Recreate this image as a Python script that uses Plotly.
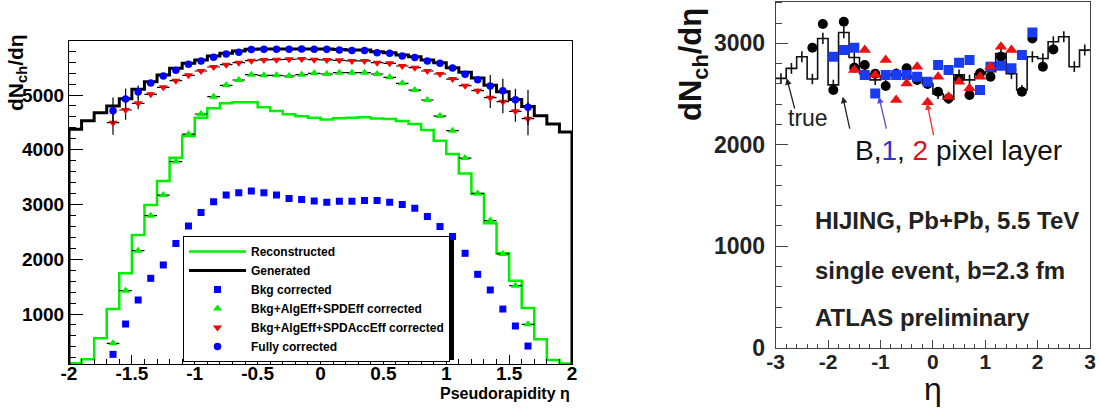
import numpy as np
import plotly.graph_objects as go

# ---------------- left panel: dN/deta corrections (ROOT style) ----------------
edges_l = [round(v, 2) for v in np.arange(-2.0, 2.001, 0.1)]
eta_pts = [round(v, 2) for v in np.arange(-1.65, 1.651, 0.1)]

generated = [4373, 4530, 4677, 4800, 4932, 5104, 5243, 5366, 5488, 5579,
             5640, 5713, 5762, 5805, 5835, 5841, 5841, 5841, 5841, 5841,
             5841, 5830, 5820, 5820, 5790, 5770, 5730, 5700, 5640, 5590,
             5500, 5415, 5312, 5180, 5060, 4920, 4790, 4622, 4470, 4324]
reconstructed = [100, 172, 556, 1091, 1744, 2444, 2993, 3431, 3852, 4250,
                 4585, 4757, 4848, 4870, 4870, 4775, 4707, 4647, 4610, 4585,
                 4555, 4574, 4585, 4592, 4570, 4562, 4525, 4470, 4360, 4165,
                 3921, 3568, 3190, 2658, 2109, 1609, 1110, 537, 159, 98]
fully_corr = [4713, 4927, 5055, 5219, 5347, 5451, 5561, 5622, 5689, 5750,
              5780, 5829, 5835, 5835, 5835, 5841, 5835, 5835, 5823, 5811,
              5811, 5774, 5762, 5713, 5683, 5622, 5579, 5494, 5378, 5280,
              5165, 5079, 4914, 4775]
fully_err = [240, 190, 120, 40, 30, 30, 30, 30, 30, 30, 30, 30, 30, 30, 30, 30, 30,
             30, 30, 30, 30, 30, 30, 30, 30, 30, 30, 30, 30, 40, 200, 220, 200, 320]
accEff_corr = [4494, 4726, 4848, 5012, 5140, 5262, 5360, 5439, 5512, 5554,
               5591, 5627, 5640, 5646, 5652, 5658, 5646, 5640, 5634, 5622,
               5622, 5591, 5579, 5530, 5500, 5439, 5384, 5292, 5171, 5079,
               4951, 4878, 4702, 4567]
accEff_err = [220, 180, 110, 40, 30, 30, 30, 30, 30, 30, 30, 30, 30, 30, 30, 30, 30,
              30, 30, 30, 30, 30, 30, 30, 30, 30, 30, 30, 30, 40, 190, 210, 190, 300]
spdEff_corr = [464, 1426, 2157, 2797, 3172, 3784, 4284, 4653, 4969, 5177,
               5274, 5371, 5360, 5360, 5347, 5371, 5396, 5384, 5408, 5408,
               5408, 5384, 5323, 5214, 5091, 4909, 4616, 4348, 3848, 3203,
               2706, 2097, 1517, 812]
bkg_corr = [263, 817, 1256, 1652, 1896, 2286, 2609, 2852, 3050, 3172,
            3215, 3245, 3215, 3172, 3111, 3093, 3066, 3042, 3060, 3060,
            3072, 3072, 3042, 3000, 2932, 2779, 2597, 2414, 2109, 1725,
            1439, 1091, 781, 415]
half_bin = [0.05] * len(eta_pts)

# ---------------- right panel: ATLAS single event ----------------
true_eta = [round(v, 2) for v in np.arange(-2.9, 2.901, 0.2)]
true_edges = [round(v, 2) for v in np.arange(-3.0, 3.001, 0.2)]
true_vals = [2654, 2753, 2868, 2648, 3048, 2590, 3107, 2860, 2700, 2640,
             2680, 2700, 2680, 2660, 2600, 2500, 2450, 2690, 2640, 2700,
             2720, 2900, 2700, 2540, 2868, 2850, 3015, 3065, 2769, 2933]
true_err = [51, 52, 54, 51, 55, 51, 56, 53, 52, 51, 52, 52, 52, 52, 51,
            50, 49, 52, 51, 52, 52, 54, 52, 50, 54, 53, 55, 55, 53, 54]

b_eta = [-2.3, -2.1, -1.9, -1.7, -1.5, -1.3, -1.1, -0.9, -0.7, -0.5, -0.3, -0.1,
         0.1, 0.3, 0.5, 0.7, 0.9, 1.1, 1.3, 1.5, 1.7, 1.9, 2.1, 2.3]
b_vals = [2956, 3190, 2539, 3213, 2760, 2786, 2700, 2579, 2700, 2753, 2638, 2600,
          2523, 2457, 2650, 2490, 2704, 2671, 2868, 2740, 2523, 3048, 2769, 2940]
l1_eta = [-1.9, -1.7, -1.5, -1.3, -1.1, -0.9, -0.7, -0.5, -0.3, -0.1,
          0.1, 0.3, 0.5, 0.7, 0.9, 1.1, 1.3, 1.5, 1.7, 1.9]
l1_vals = [2868, 2933, 2956, 2687, 2506, 2687, 2687, 2687, 2671, 2622,
           2786, 2737, 2809, 2835, 2539, 2769, 2779, 2753, 2884, 3107]
l2_eta = [-1.5, -1.3, -1.1, -0.9, -0.7, -0.5, -0.3, -0.1,
          0.1, 0.3, 0.5, 0.7, 0.9, 1.1, 1.3, 1.5]
l2_vals = [2736, 2933, 2687, 2835, 2441, 2605, 2769, 2420,
           2671, 2474, 2622, 2556, 2671, 2769, 2966, 2933]

left_xticks = [-2, -1.5, -1, -0.5, 0, 0.5, 1, 1.5, 2]
left_yticks = [1000, 2000, 3000, 4000, 5000]
right_xticks = [-3, -2, -1, 0, 1, 2, 3]
right_yticks = [0, 1000, 2000, 3000]


def hist_outline(edges, vals):
    xs = [edges[0]] + edges[:-1] + [edges[-1], edges[-1]]
    ys = [0] + vals + [vals[-1], 0]
    return xs, ys


W, H = 1100, 409
FONT = "Liberation Sans"

fig = go.Figure()

gx, gy = hist_outline(edges_l, reconstructed)
fig.add_trace(go.Scatter(x=gx, y=gy, mode="lines", line=dict(color="#00ee00", width=2.5, shape="hv"),
                         name="Reconstructed", xaxis="x", yaxis="y"))
bx, by = hist_outline(edges_l, generated)
fig.add_trace(go.Scatter(x=bx, y=by, mode="lines", line=dict(color="black", width=3, shape="hv"),
                         name="Generated", xaxis="x", yaxis="y"))
fig.add_trace(go.Scatter(x=eta_pts, y=bkg_corr, mode="markers",
                         marker=dict(symbol="square", size=7, color="#0000ff"),
                         name="Bkg corrected", xaxis="x", yaxis="y"))
fig.add_trace(go.Scatter(x=eta_pts, y=spdEff_corr, mode="markers",
                         marker=dict(symbol="triangle-up", size=8, color="#00ee00"),
                         error_x=dict(type="data", array=half_bin, color="black", thickness=1.2, width=0),
                         name="Bkg+AlgEff+SPDEff corrected", xaxis="x", yaxis="y"))
fig.add_trace(go.Scatter(x=eta_pts, y=accEff_corr, mode="markers",
                         marker=dict(symbol="triangle-down", size=8, color="#ff0000"),
                         error_x=dict(type="data", array=half_bin, color="black", thickness=1.2, width=0),
                         error_y=dict(type="data", array=accEff_err, color="black", thickness=1.2, width=0),
                         name="Bkg+AlgEff+SPDAccEff corrected", xaxis="x", yaxis="y"))
fig.add_trace(go.Scatter(x=eta_pts, y=fully_corr, mode="markers",
                         marker=dict(symbol="circle", size=7.5, color="#0000ff"),
                         error_y=dict(type="data", array=fully_err, color="black", thickness=1.2, width=0),
                         name="Fully corrected", xaxis="x", yaxis="y"))

# right panel
tx = true_edges[:-1] + [true_edges[-1]]
ty = true_vals + [true_vals[-1]]
fig.add_trace(go.Scatter(x=tx, y=ty, mode="lines", line=dict(color="#111", width=1.6, shape="hv"),
                         showlegend=False, xaxis="x2", yaxis="y2"))
fig.add_trace(go.Scatter(x=true_eta, y=true_vals, mode="markers", marker=dict(size=1, color="#111"),
                         error_y=dict(type="data", array=true_err, color="#111", thickness=1.6, width=0),
                         showlegend=False, xaxis="x2", yaxis="y2"))
fig.add_trace(go.Scatter(x=b_eta, y=b_vals, mode="markers", marker=dict(symbol="circle", size=10, color="black"),
                         showlegend=False, xaxis="x2", yaxis="y2"))
fig.add_trace(go.Scatter(x=l1_eta, y=l1_vals, mode="markers", marker=dict(symbol="square", size=10, color="#1a3cf0"),
                         showlegend=False, xaxis="x2", yaxis="y2"))
fig.add_trace(go.Scatter(x=l2_eta, y=l2_vals, mode="markers", marker=dict(symbol="triangle-up", size=11, color="#ee1111"),
                         showlegend=False, xaxis="x2", yaxis="y2"))


def px2paper(x, y):
    return x / W, (H - y) / H


left_axis_common = dict(showgrid=False, zeroline=False, showline=True, linecolor="black", linewidth=1,
                        mirror=True, ticks="inside", tickcolor="black", automargin=False)
right_axis_common = dict(showgrid=False, zeroline=False, showline=True, linecolor="#444", linewidth=1,
                         mirror=True, ticks="inside", tickcolor="#444", automargin=False)
tick_l = dict(family=FONT, size=19, color="black", weight="bold")
tick_rx = dict(family=FONT, size=21, color="#222", weight="bold")
tick_ry = dict(family=FONT, size=23, color="#222", weight="bold")

LEG_TOP = 236
fig.update_layout(
    width=W, height=H, margin=dict(l=0, r=0, t=0, b=0, autoexpand=False),
    paper_bgcolor="white", plot_bgcolor="white",
    xaxis=dict(domain=[69 / W, 572 / W], range=[-2, 2], anchor="y",
               tickvals=left_xticks, ticktext=[("%g" % v) for v in left_xticks],
               ticklen=9, tickfont=tick_l, ticklabelstandoff=-8,
               minor=dict(ticks="inside", dtick=0.1, tick0=0, ticklen=5, tickcolor="black"),
               **left_axis_common),
    yaxis=dict(domain=[(H - 364) / H, (H - 40.7) / H], range=[87, 5992], anchor="x",
               tickvals=left_yticks, ticktext=[str(v) for v in left_yticks],
               ticklen=14, tickfont=tick_l,
               minor=dict(ticks="inside", dtick=200, tick0=0, ticklen=7, tickcolor="black"),
               **left_axis_common),
    xaxis2=dict(domain=[775.7 / W, 1090 / W], range=[-3, 3], anchor="y2",
                tickvals=right_xticks, ticktext=[str(v) for v in right_xticks],
                ticklen=8, tickfont=tick_rx, ticklabelstandoff=-5,
                minor=dict(ticks="inside", dtick=0.2, tick0=0, ticklen=4, tickcolor="#444"),
                **right_axis_common),
    yaxis2=dict(domain=[(H - 347.7) / H, (H - 1.7) / H], range=[0, 3410], anchor="x2",
                tickvals=right_yticks, ticktext=[str(v) for v in right_yticks],
                ticklen=12, tickfont=tick_ry, ticklabelstandoff=5,
                minor=dict(ticks="inside", dtick=200, tick0=0, ticklen=6, tickcolor="#444"),
                **right_axis_common),
    legend=dict(x=183 / W, y=(H - LEG_TOP) / H, xanchor="left", yanchor="top",
                bgcolor="white", bordercolor="black", borderwidth=1,
                font=dict(family=FONT, size=12, color="black", weight="bold"),
                itemwidth=57, tracegroupgap=0, entrywidth=265, entrywidthmode="pixels"),
    showlegend=True,
)

# legend drop shadow
sx0, sy0 = px2paper(187, LEG_TOP + 4)
sx1, sy1 = px2paper(454, LEG_TOP + 124)
fig.add_shape(type="rect", xref="paper", yref="paper", x0=sx0, x1=sx1, y0=sy1, y1=sy0,
              fillcolor="black", line=dict(width=0), layer="above")

ann = []
# axis titles
for text, (px, py), size, angle, xa, col in [
        ("<b>dN<sub>ch</sub>/dη</b>", (17, 73), 21, -90, "center", "black"),
        ("<b>Pseudorapidity η</b>", (572, 393), 16, 0, "right", "black"),
        ("<b>dN<sub>ch</sub>/dη</b>", (693, 65), 31, -90, "center", "#111"),
        ("η", (933, 389), 32, 0, "center", "#111")]:
    x, y = px2paper(px, py)
    ann.append(dict(x=x, y=y, xref="paper", yref="paper", text=text, textangle=angle,
                    xanchor=xa, yanchor="middle", showarrow=False,
                    font=dict(family=FONT, size=size, color=col)))

# right panel texts
ann.append(dict(x=-2.38, y=2264, xref="x2", yref="y2", text="true", showarrow=False,
                xanchor="center", yanchor="middle", font=dict(family=FONT, size=23, color="#222")))
ann.append(dict(x=-1.525, y=1948, xref="x2", yref="y2", xanchor="left", yanchor="middle", showarrow=False,
                text="B,<span style='color:#3333cc'>1</span>, <span style='color:#dd1111'>2</span> pixel layer",
                font=dict(family=FONT, size=28, color="#111")))
for txt, yy in [("HIJING, Pb+Pb, 5.5 TeV", 1258), ("single event, b=2.3 fm", 765), ("ATLAS preliminary", 293)]:
    ann.append(dict(x=-2.29, y=yy, xref="x2", yref="y2", xanchor="left", yanchor="middle", showarrow=False,
                    text="<b>" + txt + "</b>", font=dict(family=FONT, size=24, color="#222")))

# arrows
for (x0, y0, x1, y1, col) in [(-2.63, 2343, -2.79, 2655, "#222"),
                              (-1.58, 2145, -1.72, 2474, "#222"),
                              (-0.88, 2145, -1.03, 2474, "#4d4ddd"),
                              (0.02, 2079, -0.11, 2409, "#ee3333")]:
    ann.append(dict(x=x1, y=y1, ax=x0, ay=y0, xref="x2", yref="y2", axref="x2", ayref="y2",
                    text="", showarrow=True, arrowhead=2, arrowsize=1, arrowwidth=1.3, arrowcolor=col))

fig.update_layout(annotations=ann)
fig.write_html("out.html", config={"displayModeBar": False},
               post_script="document.body.style.margin='0';document.body.style.overflow='hidden';")
